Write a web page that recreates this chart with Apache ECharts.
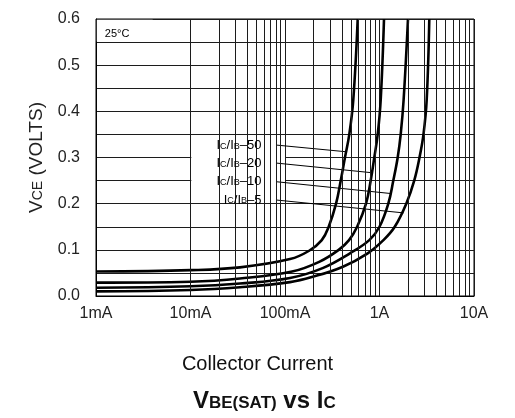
<!DOCTYPE html>
<html>
<head>
<meta charset="utf-8">
<script src="https://cdn.jsdelivr.net/npm/echarts@6/dist/echarts.min.js"></script>
<style>
html, body { margin: 0; background: #fff; }
#vce_chart { width: 515px; height: 418px; }
</style>
</head>
<body>
<div id="vce_chart"></div>
<script>
var vceChart = echarts.init(document.getElementById('vce_chart'));

// x axis decades and their labels
var currentTicks = [0.001, 0.01, 0.1, 1, 10];
var currentLabels = ['1mA', '10mA', '100mA', '1A', '10A'];

// [collector current (A), VCE (V)]
var ratio50 = [[0.001, 0.053], [0.01, 0.056], [0.0334, 0.062], [0.113, 0.08], [0.18, 0.098], [0.245, 0.121],
  [0.29, 0.15], [0.347, 0.2], [0.389, 0.25], [0.431, 0.3], [0.479, 0.35], [0.528, 0.425], [0.588, 0.6]];
var ratio20 = [[0.001, 0.029], [0.01, 0.031], [0.0334, 0.038], [0.119, 0.053], [0.23, 0.074], [0.37, 0.1],
  [0.476, 0.121], [0.58, 0.15], [0.72, 0.2], [0.807, 0.25], [0.881, 0.3], [0.957, 0.35], [1.03, 0.425], [1.116, 0.6]];
var ratio10 = [[0.001, 0.018], [0.01, 0.021], [0.0334, 0.027], [0.113, 0.039], [0.254, 0.061], [0.487, 0.0925],
  [0.78, 0.121], [1.0, 0.15], [1.239, 0.2], [1.4, 0.25], [1.558, 0.3], [1.676, 0.35], [1.8, 0.425], [2.002, 0.6]];
var ratio5 = [[0.001, 0.010], [0.01, 0.013], [0.0334, 0.019], [0.113, 0.030], [0.2, 0.042], [0.41, 0.0635],
  [0.75, 0.0925], [1.1, 0.121], [1.45, 0.15], [1.92, 0.2], [2.33, 0.25], [2.65, 0.3], [2.92, 0.35], [3.158, 0.425], [3.365, 0.6]];

// IC/IB labels and the leader lines to their curves
var ratioNames = ['50', '20', '10', '5'];
var leaderStart = [[0.0803, 0.327], [0.0803, 0.288], [0.0803, 0.2476], [0.0803, 0.208]];
var leaderEnd = [[0.44, 0.3125], [0.835, 0.267], [1.31, 0.222], [1.8, 0.18]];

var fontName = "'Liberation Sans', Arial, sans-serif";
var gridColor = '#1c1c1c';

// minor log grid lines 2..9 in every decade
var minorLines = [];
for (var d = 0; d < currentTicks.length - 1; d++) {
  for (var m = 2; m <= 9; m++) {
    minorLines.push({ xAxis: currentTicks[d] * m });
  }
}

function curve(data) {
  return {
    type: 'line',
    data: data,
    z: 3,
    smooth: 0.4,
    symbol: 'none',
    lineStyle: { color: '#000', width: 2.6 },
    silent: true
  };
}

var series = [
  { // minor vertical grid
    type: 'line',
    data: [],
    z: 1,
    markLine: {
      silent: true,
      symbol: ['none', 'none'],
      label: { show: false },
      lineStyle: { color: gridColor, width: 1, type: 'solid', opacity: 1 },
      data: minorLines,
      animation: false
    }
  },
  { // white boxes behind the texts
    type: 'line',
    data: [],
    z: 2,
    markArea: {
      silent: true,
      itemStyle: { color: '#fff', opacity: 1 },
      label: { show: true, position: 'insideLeft', distance: 8, color: '#000', fontSize: 11, fontFamily: fontName, offset: [0, 3] },
      data: [
        [{ name: '25°C', coord: [0.00102, 0.5515] }, { coord: [0.00398, 0.5985] }],
        [{ name: '', coord: [0.0102, 0.2015] }, { coord: [0.1, 0.3485] }]
      ]
    }
  },
  curve(ratio50),
  curve(ratio20),
  curve(ratio10),
  curve(ratio5)
];

for (var i = 0; i < ratioNames.length; i++) {
  series.push({
    type: 'line',
    data: [leaderStart[i], leaderEnd[i]],
    z: 4,
    symbol: 'none',
    silent: true,
    lineStyle: { color: '#000', width: 1 }
  });
}

series.push({
  type: 'scatter',
  z: 5,
  symbolSize: 1,
  silent: true,
  itemStyle: { color: 'rgba(0,0,0,0)', opacity: 1 },
  data: leaderStart.map(function (p, k) { return { name: ratioNames[k], value: p }; }),
  label: {
    show: true,
    position: 'left',
    distance: 14,
    opacity: 1,
    formatter: function (p) {
      return '{n|I}{s|C}{n|/I}{s|B}{n|–' + p.name + '}';
    },
    rich: {
      n: { fontSize: 13, color: '#000', fontFamily: fontName, verticalAlign: 'bottom' },
      s: { fontSize: 9, color: '#000', fontFamily: fontName, verticalAlign: 'bottom', padding: [0, 0, 1, 0] }
    }
  }
});

var option = {
  animation: false,
  backgroundColor: '#fff',
  title: [
    {
      text: 'Collector Current',
      left: 'center',
      top: 349,
      textStyle: { fontSize: 20, fontWeight: 'normal', color: '#111', fontFamily: fontName }
    },
    {
      text: '{a|V}{b|BE(SAT)}{a| vs I}{b|C}',
      left: 188,
      top: 384,
      textStyle: {
        rich: {
          a: { fontSize: 24, fontWeight: 'bold', color: '#111', fontFamily: fontName, verticalAlign: 'bottom' },
          b: { fontSize: 17, fontWeight: 'bold', color: '#111', fontFamily: fontName, verticalAlign: 'bottom', padding: [0, 0, 1, 0] }
        }
      }
    }
  ],
  grid: {
    left: 96, right: 41, top: 19, bottom: 122,
    show: true, borderColor: '#000', borderWidth: 1
  },
  xAxis: {
    type: 'log',
    logBase: 10,
    min: 0.001,
    max: 10,
    axisLine: { show: true, lineStyle: { color: '#000', width: 1 } },
    axisTick: { show: false },
    splitLine: { show: true, lineStyle: { color: gridColor, width: 1 } },
    axisLabel: {
      margin: 10,
      fontSize: 16,
      color: '#222',
      fontFamily: fontName,
      formatter: function (v) {
        var best = 0;
        for (var k = 0; k < currentTicks.length; k++) {
          if (Math.abs(Math.log10(v) - Math.log10(currentTicks[k])) < Math.abs(Math.log10(v) - Math.log10(currentTicks[best]))) best = k;
        }
        return currentLabels[best];
      }
    }
  },
  yAxis: {
    type: 'value',
    min: 0,
    max: 0.6,
    interval: 0.1,
    name: '{v|V}{s|CE}{v| (VOLTS)}',
    nameLocation: 'middle',
    nameGap: 50,
    nameTextStyle: {
      rich: {
        v: { fontSize: 19, color: '#222', fontFamily: fontName, verticalAlign: 'bottom' },
        s: { fontSize: 14, color: '#222', fontFamily: fontName, verticalAlign: 'bottom', padding: [0, 0, 1, 0] }
      }
    },
    axisLine: { show: true, lineStyle: { color: '#000', width: 1 } },
    axisTick: { show: false },
    splitLine: { show: true, lineStyle: { color: gridColor, width: 1 } },
    minorTick: { show: false, splitNumber: 2 },
    minorSplitLine: { show: true, lineStyle: { color: gridColor, width: 1 } },
    axisLabel: {
      margin: 16,
      fontSize: 16,
      color: '#222',
      fontFamily: fontName,
      formatter: function (v) { return v.toFixed(1); }
    }
  },
  series: series
};

vceChart.setOption(option);
</script>
</body>
</html>
